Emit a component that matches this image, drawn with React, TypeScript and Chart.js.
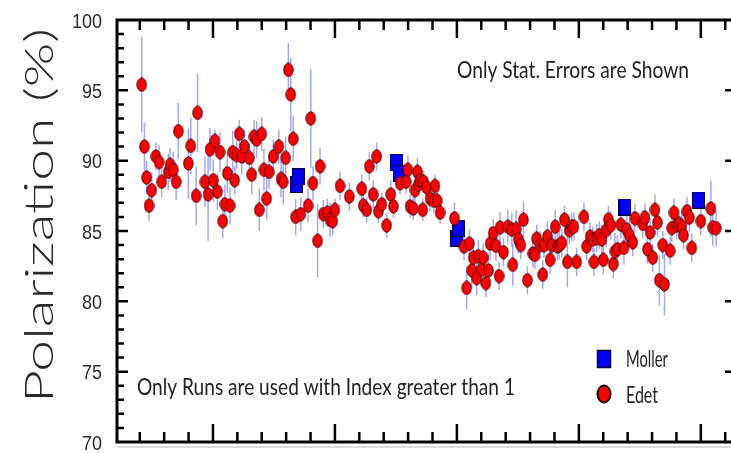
import React, { useEffect, useRef } from "react";
import { Chart, registerables } from "chart.js";

Chart.register(...registerables);

// ---- Data ----
const edetX = [
  20.8, 21.9, 22.8, 23.8, 24.9, 26.6, 27.9, 29.0, 31.7, 32.4,
  33.7, 34.9, 35.8, 39.9, 40.9, 43.1, 43.7, 46.7, 48.0, 48.8,
  50.1, 50.8, 51.8, 52.9, 54.0, 54.9, 55.9, 57.0, 58.1, 58.9,
  59.7, 60.8, 61.8, 62.9, 64.9, 65.9, 66.8, 67.9, 69.0, 70.0,
  70.9, 72.0, 73.0, 74.7, 77.0, 77.9, 78.8, 79.8, 80.9, 81.9,
  82.9, 83.9, 86.0, 89.0, 90.1, 91.0, 92.9, 93.9, 95.2, 96.9,
  98.0, 99.1, 100.0, 102.1, 105.9, 111.0, 111.6, 113.0, 114.1, 115.7,
  117.1, 117.8, 119.2, 121.2, 122.9, 124.0, 126.7, 129.2, 129.9, 130.8,
  132.1, 132.8, 133.8, 134.2, 134.9, 136.0, 136.3, 137.6, 139.0, 140.6,
  141.0, 141.9, 143.1, 149.0, 152.9, 154.0, 155.1, 156.1, 156.7, 158.1,
  158.8, 160.2, 160.8, 161.9, 162.9, 163.6, 164.9, 166.0, 167.3, 167.7,
  169.1, 170.9, 172.5, 172.9, 174.3, 175.2, 176.2, 177.3, 178.9, 181.1,
  182.0, 182.7, 184.1, 185.2, 185.7, 187.1, 188.2, 188.9, 190.3, 191.2,
  192.0, 193.0, 194.1, 195.3, 196.1, 197.1, 198.0, 199.1, 202.1, 203.2,
  204.6, 205.7, 206.2, 207.3, 208.4, 209.4, 210.0, 211.2, 212.1, 213.1,
  214.1, 214.8, 215.8, 217.2, 218.5, 219.6, 220.7, 222.1, 223.0, 226.2,
  227.1, 228.1, 229.2, 230.3, 231.2, 232.2, 233.0, 234.4, 235.1, 237.4,
  238.1, 239.0, 240.1, 241.2, 242.2, 242.9, 244.3, 245.3, 246.3, 250.0,
  254.1, 254.9, 256.3,
];

const edetY = [
  95.4, 91.0, 88.8, 86.8, 87.9, 90.3, 89.9, 88.5, 89.2, 89.7,
  89.35, 88.5, 92.1, 89.8, 91.05, 87.5, 93.4, 88.5, 87.6, 90.8,
  88.6, 91.4, 87.8, 90.6, 85.7, 86.9, 89.1, 86.8, 90.6, 88.6,
  90.4, 91.9, 90.3, 91.0, 90.2, 89.0, 91.7, 91.5, 86.5, 91.9,
  89.35, 87.3, 89.2, 90.3, 91.0, 88.7, 88.5, 90.2, 96.45, 94.7,
  91.55, 86.0, 86.2, 86.8, 93.0, 88.4, 84.3, 89.6, 86.2, 86.3,
  85.8, 85.7, 86.5, 88.2, 87.45, 88.0, 86.8, 86.5, 89.6, 87.6,
  90.3, 86.4, 86.9, 85.4, 87.6, 86.75, 88.4, 88.5, 89.35, 86.75,
  86.6, 87.9, 89.2, 88.3, 88.6, 86.5, 88.5, 88.1, 87.3, 87.15,
  88.2, 87.15, 86.3, 85.9, 83.9, 80.95, 84.1, 82.2, 83.1, 81.65,
  83.2, 82.25, 83.1, 81.3, 82.2, 84.1, 84.85, 83.95, 81.8, 85.25,
  83.5, 85.3, 85.1, 82.6, 85.15, 84.4, 84.0, 85.8, 81.5, 83.4,
  83.3, 84.45, 84.0, 81.9, 84.0, 84.6, 82.95, 84.0, 85.3, 83.9,
  84.0, 84.15, 85.8, 82.8, 85.05, 85.3, 85.3, 82.8, 86.0, 83.9,
  84.6, 84.4, 82.8, 84.5, 84.7, 84.4, 82.95, 85.05, 85.8, 85.4,
  82.65, 83.55, 83.7, 85.45, 83.8, 85.1, 84.7, 84.2, 85.9, 85.5,
  85.95, 83.7, 84.9, 83.1, 86.5, 85.6, 81.5, 84.0, 81.2, 83.6,
  85.2, 86.3, 85.4, 85.5, 85.3, 84.7, 86.4, 85.95, 83.8, 85.7,
  86.6, 85.25, 85.2,
];

const edetErr = [
  3.4, 1.7, 1.2, 1.1, 1.3, 1.0, 1.2, 1.1, 1.3, 1.2,
  1.3, 1.3, 2.0, 2.5, 2.0, 2.1, 2.8, 1.8, 3.3, 1.5,
  1.5, 0.8, 1.3, 1.4, 1.2, 1.4, 1.4, 1.3, 1.5, 1.0,
  1.0, 1.0, 1.3, 1.2, 1.0, 1.4, 1.2, 1.3, 1.5, 1.2,
  1.5, 1.5, 1.2, 1.2, 1.2, 1.3, 1.6, 1.5, 1.9, 2.6,
  1.6, 1.3, 1.2, 1.2, 3.5, 1.2, 2.6, 1.3, 1.0, 1.0,
  1.2, 1.0, 0.8, 1.0, 1.0, 1.0, 0.8, 0.9, 1.0, 1.0,
  1.0, 0.8, 0.8, 0.9, 1.0, 0.8, 0.8, 0.8, 1.0, 0.8,
  0.8, 0.9, 1.0, 0.8, 0.8, 0.8, 0.8, 0.8, 0.9, 0.9,
  0.8, 0.8, 0.8, 1.1, 1.0, 1.5, 1.0, 1.2, 1.2, 1.2,
  1.2, 1.2, 1.0, 1.0, 1.2, 1.2, 1.0, 1.1, 1.0, 1.1,
  1.0, 1.2, 1.2, 1.5, 1.3, 1.0, 1.0, 1.3, 1.0, 1.0,
  1.0, 1.0, 1.0, 1.0, 0.9, 1.1, 1.0, 1.0, 1.2, 1.0,
  1.0, 1.0, 1.0, 1.8, 1.0, 1.0, 1.0, 1.0, 1.0, 1.0,
  1.0, 0.9, 1.0, 1.0, 1.0, 1.0, 1.0, 1.2, 1.0, 1.0,
  1.0, 1.3, 1.0, 1.0, 1.2, 1.2, 1.0, 1.0, 1.0, 1.0,
  1.0, 1.0, 1.0, 1.0, 1.1, 1.0, 1.8, 1.0, 2.2, 1.0,
  1.0, 1.0, 1.0, 1.0, 1.0, 1.0, 1.0, 1.0, 1.0, 1.0,
  2.0, 1.3, 1.3,
];

const mollerX = [84.1, 84.9, 125.1, 126.3, 149.9, 150.6, 218.9, 249.0];
const mollerY = [88.3, 88.85, 89.9, 89.1, 84.5, 85.2, 86.7, 87.2];

const yTickLabels = [70, 75, 80, 85, 90, 95, 100];
const xMajorTicks = [50, 100, 150, 200, 250];
const xMinorStep = 10;
const yMinorStep = 1;
const xRange = [10.66, 263.6];
const yRange = [70, 100];

const yTitle = "Polarization (%)";
const noteTop = "Only Stat. Errors are Shown";
const noteBottom = "Only Runs are used with Index greater than 1";
const legendLabels = ["Moller", "Edet"];

// ---- helpers ----
function drawFitted(
  ctx: CanvasRenderingContext2D,
  text: string,
  x: number,
  baseline: number,
  width: number,
  cap: number,
  family: string,
  color: string,
  weight = "normal"
) {
  ctx.save();
  const size = 40;
  ctx.font = `${weight} ${size}px ${family}`;
  const w = ctx.measureText(text).width;
  const capM = ctx.measureText("H").actualBoundingBoxAscent || size * 0.72;
  ctx.translate(x, baseline);
  ctx.scale(width / w, cap / capM);
  ctx.fillStyle = color;
  ctx.textAlign = "left";
  ctx.textBaseline = "alphabetic";
  ctx.fillText(text, 0, 0);
  ctx.restore();
}

function makeEllipse(w: number, h: number) {
  const c = document.createElement("canvas");
  c.width = w;
  c.height = h;
  const g = c.getContext("2d")!;
  g.beginPath();
  g.ellipse(w / 2, h / 2, w / 2 - 0.8, h / 2 - 0.8, 0, 0, Math.PI * 2);
  g.fillStyle = "#ff0000";
  g.fill();
  g.lineWidth = 1;
  g.strokeStyle = "#4a0000";
  g.stroke();
  return c;
}

function makeRect(w: number, h: number) {
  const c = document.createElement("canvas");
  c.width = w;
  c.height = h;
  const g = c.getContext("2d")!;
  g.fillStyle = "#0000ff";
  g.fillRect(0.5, 0.5, w - 1, h - 1);
  g.lineWidth = 1;
  g.strokeStyle = "#000044";
  g.strokeRect(0.5, 0.5, w - 1, h - 1);
  return c;
}

const framePlugin = {
  id: "framePlugin",
  beforeDatasetsDraw(chart: any) {
    const { ctx, chartArea: a, scales } = chart;
    const x = scales.x;
    const y = scales.y;
    ctx.save();
    ctx.beginPath();
    ctx.rect(a.left, a.top, a.right - a.left, a.bottom - a.top);
    ctx.clip();
    ctx.strokeStyle = "rgba(105,105,255,0.6)";
    ctx.lineWidth = 1.5;
    for (let i = 0; i < edetX.length; i++) {
      const px = x.getPixelForValue(edetX[i]);
      const y1 = y.getPixelForValue(edetY[i] - edetErr[i]);
      const y2 = y.getPixelForValue(edetY[i] + edetErr[i]);
      ctx.beginPath();
      ctx.moveTo(px, y1);
      ctx.lineTo(px, y2);
      ctx.stroke();
    }
    ctx.restore();
  },
  afterDraw(chart: any) {
    const { ctx, chartArea: a, scales } = chart;
    const x = scales.x;
    const y = scales.y;
    ctx.save();
    // faint line under the frame
    ctx.strokeStyle = "#dcdcdc";
    ctx.lineWidth = 2;
    ctx.beginPath();
    ctx.moveTo(a.left, a.bottom + 5);
    ctx.lineTo(chart.width, a.bottom + 5);
    ctx.stroke();

    // frame
    ctx.strokeStyle = "#000";
    ctx.lineWidth = 3;
    ctx.strokeRect(a.left, a.top, a.right - a.left, a.bottom - a.top);

    // x ticks (bottom and top, inward)
    ctx.lineWidth = 2.5;
    const xStart = Math.ceil(x.min / xMinorStep) * xMinorStep;
    for (let v = xStart; v <= x.max; v += xMinorStep) {
      const px = x.getPixelForValue(v);
      const len = xMajorTicks.includes(v) ? 18 : 10;
      ctx.beginPath();
      ctx.moveTo(px, a.bottom);
      ctx.lineTo(px, a.bottom - len);
      ctx.moveTo(px, a.top);
      ctx.lineTo(px, a.top + len);
      ctx.stroke();
    }
    // y ticks (left and right, inward)
    for (let v = y.min + yMinorStep; v < y.max; v += yMinorStep) {
      const py = y.getPixelForValue(v);
      const major = yTickLabels.includes(v);
      ctx.beginPath();
      ctx.moveTo(a.left, py);
      ctx.lineTo(a.left + (major ? 11 : 7), py);
      ctx.moveTo(a.right, py);
      ctx.lineTo(a.right - (major ? 9 : 2), py);
      ctx.stroke();
    }

    // y tick labels
    ctx.font = "18px 'Liberation Sans', Arial, sans-serif";
    const capM = ctx.measureText("0").actualBoundingBoxAscent || 13;
    const sy = 15 / capM;
    ctx.fillStyle = "#2a2a2a";
    ctx.textAlign = "right";
    ctx.textBaseline = "alphabetic";
    for (const v of yTickLabels) {
      const py = y.getPixelForValue(v);
      ctx.save();
      ctx.translate(a.left - 15, py + 7.5);
      ctx.scale(1, sy);
      ctx.fillText(String(v), 0, 0);
      ctx.restore();
    }

    // y title (rotated)
    ctx.save();
    ctx.translate(53, 403);
    ctx.rotate(-Math.PI / 2);
    drawFitted(ctx, yTitle, 0, 0, 375, 28, "Lato, 'DejaVu Sans', sans-serif", "#2a2a2a", "300");
    ctx.restore();

    // notes
    drawFitted(ctx, noteTop, 457, 78, 232, 17, "Lato, 'DejaVu Sans', sans-serif", "#222");
    drawFitted(ctx, noteBottom, 137, 395, 378, 17, "Lato, 'DejaVu Sans', sans-serif", "#222");

    // legend
    ctx.fillStyle = "#0000ff";
    ctx.fillRect(597.5, 350.5, 13, 17);
    ctx.lineWidth = 1.5;
    ctx.strokeStyle = "#000033";
    ctx.strokeRect(597.5, 350.5, 13, 17);
    ctx.beginPath();
    ctx.ellipse(604, 394, 6.5, 8.5, 0, 0, Math.PI * 2);
    ctx.fillStyle = "#ff0000";
    ctx.fill();
    ctx.strokeStyle = "#1a0000";
    ctx.lineWidth = 2;
    ctx.stroke();
    drawFitted(ctx, legendLabels[0], 626, 367, 42, 17, "Lato, 'DejaVu Sans', sans-serif", "#222");
    drawFitted(ctx, legendLabels[1], 626, 403, 32, 17, "Lato, 'DejaVu Sans', sans-serif", "#222");

    ctx.restore();
  },
};

export default function App() {
  const ref = useRef<HTMLCanvasElement | null>(null);

  useEffect(() => {
    const canvas = ref.current;
    if (!canvas) return;
    const ellipse = makeEllipse(11, 15);
    const rect = makeRect(13, 17);
    const chart = new Chart(canvas, {
      type: "scatter",
      data: {
        datasets: [
          {
            label: legendLabels[1],
            data: edetX.map((xv, i) => ({ x: xv, y: edetY[i] })),
            pointStyle: ellipse as any,
            pointRadius: 6,
            showLine: false,
          },
          {
            label: legendLabels[0],
            data: mollerX.map((xv, i) => ({ x: xv, y: mollerY[i] })),
            pointStyle: rect as any,
            pointRadius: 7,
            showLine: false,
          },
        ],
      },
      options: {
        responsive: false,
        animation: false,
        devicePixelRatio: 1,
        layout: { padding: { left: 117, top: 20, right: 11, bottom: 11 } },
        scales: {
          x: { type: "linear", display: false, min: xRange[0], max: xRange[1] },
          y: { type: "linear", display: false, min: yRange[0], max: yRange[1] },
        },
        plugins: {
          legend: { display: false },
          tooltip: { enabled: false },
        },
      },
      plugins: [framePlugin],
    });
    return () => chart.destroy();
  }, []);

  return (
    <div
      style={{
        position: "fixed",
        left: 0,
        top: 0,
        width: 731,
        height: 453,
        overflow: "hidden",
        background: "#fff",
      }}
    >
      <canvas ref={ref} width={745} height={453} style={{ display: "block", width: 745, height: 453 }} />
    </div>
  );
}
